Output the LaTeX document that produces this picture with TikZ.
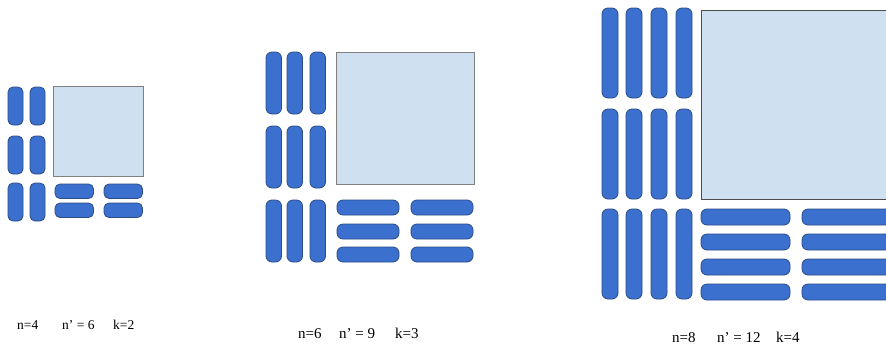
\documentclass[tikz,border=0pt]{standalone}
\usepackage{fontspec}
\setmainfont{Liberation Serif}
\definecolor{barfill}{HTML}{3B70CF}
\definecolor{barline}{HTML}{2B4C86}
\definecolor{sqfill}{HTML}{CFE0F1}
\definecolor{sqline}{HTML}{808080}
\begin{document}
\begin{tikzpicture}[x=1pt,y=-1pt,
  bar/.style={fill=barfill,draw=barline,line width=0.8pt,rounded corners=5pt},
  sq/.style={fill=sqfill,draw=sqline,line width=0.9pt},
  lblA/.style={anchor=base west,inner sep=0pt,font=\fontsize{13.5}{14}\selectfont},
  lblB/.style={anchor=base west,inner sep=0pt,font=\fontsize{15}{16}\selectfont}]
\clip (0,0) rectangle (886,346);
\fill[white] (0,0) rectangle (886,346);
% ---------- figure 1 (n=4) ----------
\foreach \x in {8,30} \foreach \y in {87,136,183} \draw[bar] (\x,\y) rectangle ++(15,38);
\foreach \x in {55,104} \foreach \y in {184,203} \draw[bar] (\x,\y) rectangle ++(38.5,14.5);
\draw[sq] (53,86) rectangle (143,176);
% ---------- figure 2 (n=6) ----------
\foreach \x in {266,287,310} \foreach \y in {52,126,200} \draw[bar,rounded corners=6pt] (\x,\y) rectangle ++(15.5,62);
\foreach \x in {337,411} \foreach \y in {200,224,247} \draw[bar,rounded corners=6pt] (\x,\y) rectangle ++(62,15);
\draw[sq] (336,52) rectangle (474,184);
% ---------- figure 3 (n=8) ----------
\foreach \x in {602,626,651,676} \foreach \y in {8,109,209} \draw[bar,rounded corners=6pt] (\x,\y) rectangle ++(16,90);
\foreach \x in {701,802} \foreach \y in {209,234,259,284} \draw[bar,rounded corners=6pt] (\x,\y) rectangle ++(89,16);
\draw[sq,draw=black!70] (701,10) rectangle (892,199);
% ---------- labels ----------
\node[lblA] (a1) at (17,329) {n=4};
\node[lblA] (a2) at (62,329) {n’ = 6};
\node[lblA] (a3) at (113,329) {k=2};
\node[lblB] (b1) at (298,338.5) {n=6};
\node[lblB] (b2) at (339,338.5) {n’ = 9};
\node[lblB] (b3) at (395,338.5) {k=3};
\node[lblB] (c1) at (672,342.5) {n=8};
\node[lblB] (c2) at (717,342.5) {n’ = 12};
\node[lblB] (c3) at (776,342.5) {k=4};
\end{tikzpicture}
\end{document}
